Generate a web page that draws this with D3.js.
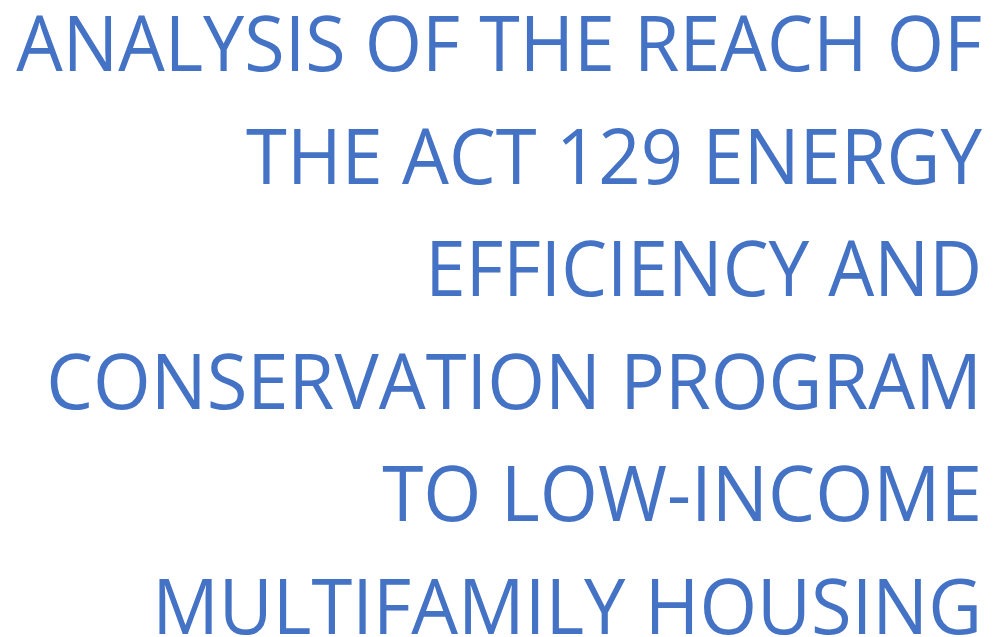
<!DOCTYPE html>
<html>
<head>
<meta charset="utf-8">
<script src="https://cdn.jsdelivr.net/npm/d3@7"></script>
<style>
  html, body { margin: 0; padding: 0; background: #ffffff; }
  svg { display: block; }
  .titleLine { font-family: "Open Sans", "Noto Sans", sans-serif; fill: #4472C4; }
</style>
</head>
<body>
<svg id="chart"></svg>
<script>
// title lines, top to bottom
var titleLines = [
  "ANALYSIS OF THE REACH OF",
  "THE ACT 129 ENERGY",
  "EFFICIENCY AND",
  "CONSERVATION PROGRAM",
  "TO LOW-INCOME",
  "MULTIFAMILY HOUSING"
];

// left ink edge of each line in the reference (layout only)
var lineLeft = [16, 246, 425, 46, 382, 152];

var width = 998, height = 637;
var rightEdge = 982;

var svg = d3.select("#chart")
  .attr("width", width)
  .attr("height", height);

// baselines are evenly spaced down the page
var y = d3.scaleLinear()
  .domain([0, titleLines.length - 1])
  .range([71, 634]);

var lines = svg.selectAll("text.titleLine")
  .data(titleLines)
  .enter()
  .append("text")
    .attr("class", "titleLine")
    .attr("x", 0)
    .attr("y", 0)
    .attr("text-anchor", "end")
    .style("font-size", "77px")
    .text(function(d) { return d; });

// squeeze each line horizontally so it spans the same width as the reference
lines.attr("transform", function(d, i) {
  var w = this.getComputedTextLength();
  var sx = (rightEdge - lineLeft[i]) / w;
  return "translate(" + rightEdge + "," + y(i) + ") scale(" + sx + ",1)";
});
</script>
</body>
</html>
